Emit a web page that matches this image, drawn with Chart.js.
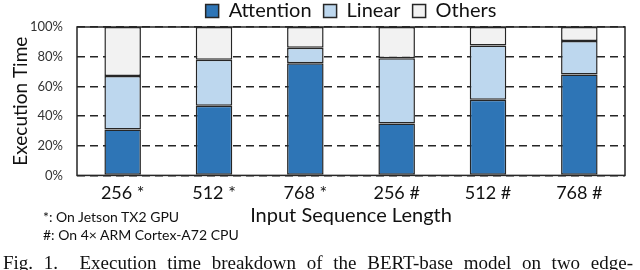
<!DOCTYPE html>
<html>
<head>
<meta charset="utf-8">
<script src="https://cdn.jsdelivr.net/npm/chart.js@4/dist/chart.umd.min.js"></script>
<style>
  html, body { margin: 0; padding: 0; background: #fff; }
  #wrap { position: relative; width: 640px; height: 270px; overflow: hidden; }
  #chart { position: absolute; left: 0; top: 0; }
  .note { position: absolute; left: 43px; font-family: Lato, sans-serif; font-size: 14px; color: #111; white-space: nowrap; }
  #caption { position: absolute; left: 3px; top: 252px; width: 630px; font-family: "Liberation Serif", serif;
             font-size: 19px; color: #111; text-align: justify; text-align-last: justify; white-space: nowrap; }
</style>
</head>
<body>
<div id="wrap">
  <canvas id="chart" width="640" height="270"></canvas>
  <div class="note" style="top:208px">*: On Jetson TX2 GPU</div>
  <div class="note" style="top:226px">#: On 4× ARM Cortex-A72 CPU</div>
  <div id="caption">Fig. 1.&nbsp; Execution time breakdown of the BERT-base model on two edge-</div>
</div>
<script>
// data (percent of execution time)
const categories = ['256 *', '512 *', '768 *', '256 #', '512 #', '768 #'];
const attention = [31, 47, 75.5, 35, 51, 68];
const linear = [36, 31, 10.5, 44, 36.5, 22.5];
const others = [33, 22, 14, 21, 12.5, 9.5];
const yTicks = [0, 20, 40, 60, 80, 100];

const FONT = 'Lato, sans-serif';
const EDGE = '#262626';

// solid frame around the plot area
const framePlugin = {
    id: 'frame',
    afterDatasetsDraw(chart) {
        const a = chart.chartArea;
        const ctx = chart.ctx;
        ctx.save();
        ctx.strokeStyle = EDGE;
        ctx.lineWidth = 1.5;
        ctx.strokeRect(a.left, a.top, a.right - a.left, a.bottom - a.top);
        ctx.restore();
    }
};

function series(label, data, color) {
    return {
        label: label,
        data: data,
        backgroundColor: color,
        borderColor: EDGE,
        borderWidth: 1.5,
        borderSkipped: false,
        barPercentage: 0.4,
        categoryPercentage: 1.0
    };
}

new Chart(document.getElementById('chart'), {
    type: 'bar',
    data: {
        labels: categories,
        datasets: [
            series('Attention', attention, '#2E75B6'),
            series('Linear', linear, '#BDD7EE'),
            series('Others', others, '#F2F2F2')
        ]
    },
    options: {
        responsive: false,
        animation: false,
        layout: { padding: { left: 0, right: 15, top: -11, bottom: 42 } },
        plugins: {
            tooltip: { enabled: false },
            legend: {
                display: true,
                position: 'top',
                fullSize: false,
                maxHeight: 38,
                labels: {
                    boxWidth: 13,
                    boxHeight: 13,
                    padding: 12,
                    color: '#111',
                    font: { family: FONT, size: 20 }
                }
            }
        },
        scales: {
            x: {
                stacked: true,
                grid: { display: false, drawTicks: false },
                border: { display: false },
                ticks: {
                    padding: 7,
                    color: '#111',
                    font: { family: FONT, size: 18 }
                },
                title: {
                    display: true,
                    text: 'Input Sequence Length',
                    color: '#111',
                    padding: { top: -7, bottom: 0 },
                    font: { family: FONT, size: 20 }
                }
            },
            y: {
                stacked: true,
                min: 0,
                max: 100,
                afterBuildTicks: function(scale) {
                    scale.ticks = yTicks.map(v => ({ value: v }));
                },
                afterFit: function(scale) { scale.width = 77; },
                grid: { color: EDGE, lineWidth: 1.5, drawTicks: false },
                border: { display: false, dash: [8, 5] },
                ticks: {
                    padding: 14,
                    color: '#333',
                    font: { family: FONT, size: 13 },
                    callback: function(value) { return value + '%'; }
                },
                title: {
                    display: true,
                    text: 'Execution Time',
                    color: '#111',
                    padding: { top: 9, bottom: 0 },
                    font: { family: FONT, size: 19 }
                }
            }
        }
    },
    plugins: [framePlugin]
});
</script>
</body>
</html>
